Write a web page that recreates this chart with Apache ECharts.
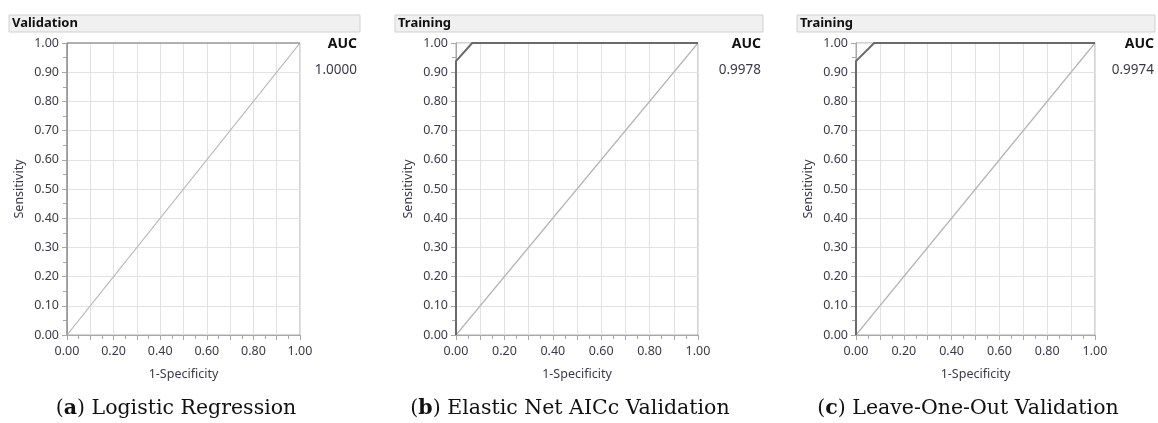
<!DOCTYPE html>
<html lang="en">
<head>
    <meta charset="UTF-8">
    <title>ROC curves</title>
    <script src="https://cdn.jsdelivr.net/npm/echarts@6/dist/echarts.min.js"></script>
    <style>
        html, body { margin: 0; padding: 0; background: #fff; }
        #rocCharts { width: 1158px; height: 423px; }
    </style>
</head>
<body>
    <div id="rocCharts"></div>
    <script>
        // panel data
        var panelHeaders = ['Validation', 'Training', 'Training'];
        var aucValues = ['1.0000', '0.9978', '0.9974'];
        var captionLetters = ['a', 'b', 'c'];
        var captionTexts = ['Logistic Regression', 'Elastic Net AICc Validation', 'Leave-One-Out Validation'];
        var rocA = [[0, 0], [0, 1], [1, 1]];
        var rocB = [[0, 0], [0, 0.938], [0.067, 1], [1, 1]];
        var rocC = [[0, 0], [0, 0.938], [0.076, 1], [1, 1]];
        var diagonal = [[0, 0], [1, 1]];

        // layout of the three panels (pixels)
        var grids = [
            { left: 67, width: 233, header: [9, 351], aucRight: 357, capX: 176 },
            { left: 456, width: 242, header: [395, 368], aucRight: 761, capX: 570 },
            { left: 856, width: 239, header: [797, 358], aucRight: 1154, capX: 968 }
        ];
        var rocs = [rocA, rocB, rocC];
        var labelFont = 'Noto Sans';
        var labelColor = '#3a3a48';

        var option = {
            animation: false,
            grid: [], xAxis: [], yAxis: [], series: [], graphic: []
        };

        grids.forEach(function (g, i) {
            option.grid.push({
                left: g.left, width: g.width, top: 43, height: 292,
                show: true, borderColor: '#a8a8a8', borderWidth: 1, backgroundColor: '#fff'
            });
            option.xAxis.push({
                type: 'value', gridIndex: i, min: 0, max: 1, interval: 0.1,
                name: '1-Specificity', nameLocation: 'middle', nameGap: 33,
                nameTextStyle: { color: labelColor, fontSize: 12.5, fontFamily: labelFont },
                axisLine: { show: true, lineStyle: { color: '#a8a8a8' } },
                axisTick: { show: true, length: 5, lineStyle: { color: '#a8a8a8' } },
                minorTick: { show: true, splitNumber: 2, length: 4, lineStyle: { color: '#a8a8a8' } },
                splitLine: { show: true, lineStyle: { color: '#e2e2e2' } },
                axisLabel: {
                    color: labelColor, fontSize: 12.5, fontFamily: labelFont, margin: 10,
                    formatter: function (v) {
                        return Math.round(v * 10) % 2 === 0 ? v.toFixed(2) : '';
                    }
                }
            });
            option.yAxis.push({
                type: 'value', gridIndex: i, min: 0, max: 1, interval: 0.1,
                name: 'Sensitivity', nameLocation: 'middle', nameGap: 41,
                nameTextStyle: { color: labelColor, fontSize: 12.5, fontFamily: labelFont },
                axisLine: { show: true, lineStyle: { color: '#a8a8a8' } },
                axisTick: { show: true, length: 5, lineStyle: { color: '#a8a8a8' } },
                minorTick: { show: true, splitNumber: 2, length: 4, lineStyle: { color: '#a8a8a8' } },
                splitLine: { show: true, lineStyle: { color: '#e2e2e2' } },
                axisLabel: {
                    color: labelColor, fontSize: 12.5, fontFamily: labelFont, margin: 8,
                    formatter: function (v) { return v.toFixed(2); }
                }
            });
            option.series.push({
                type: 'line', xAxisIndex: i, yAxisIndex: i, data: diagonal,
                symbol: 'none', lineStyle: { color: '#b4b4b4', width: 1.2 }
            });
            option.series.push({
                type: 'line', xAxisIndex: i, yAxisIndex: i, data: rocs[i],
                symbol: 'none', lineStyle: { color: i === 0 ? '#9a9a9a' : '#6a6a6a', width: i === 0 ? 1.5 : 2 }
            });

            // header bar
            option.graphic.push({
                type: 'rect', shape: { x: g.header[0], y: 15, width: g.header[1], height: 17 },
                style: { fill: '#f0f0f0', stroke: '#d0d0d0', lineWidth: 1 }
            });
            option.graphic.push({
                type: 'text', x: g.header[0] + 3, y: 23.5,
                style: { text: panelHeaders[i], fill: '#111', font: 'bold 13px "Noto Sans"', verticalAlign: 'middle' }
            });
            // AUC
            option.graphic.push({
                type: 'text', x: g.aucRight, y: 44,
                style: { text: 'AUC', fill: '#111', font: 'bold 14px "Noto Sans"', align: 'right', verticalAlign: 'middle' }
            });
            option.graphic.push({
                type: 'text', x: g.aucRight, y: 70,
                style: { text: aucValues[i], fill: labelColor, font: '13.5px "Noto Sans"', align: 'right', verticalAlign: 'middle' }
            });
            // caption
            option.graphic.push({
                type: 'text', x: g.capX, y: 409,
                style: {
                    text: '(' + '{b|' + captionLetters[i] + '}) ' + captionTexts[i],
                    fill: '#111', font: '20.5px "DejaVu Serif"', align: 'center', verticalAlign: 'middle',
                    rich: { b: { font: 'bold 20.5px "DejaVu Serif"', fill: '#111' } }
                }
            });
        });

        var myChart = echarts.init(document.getElementById('rocCharts'));
        myChart.setOption(option);
    </script>
</body>
</html>
